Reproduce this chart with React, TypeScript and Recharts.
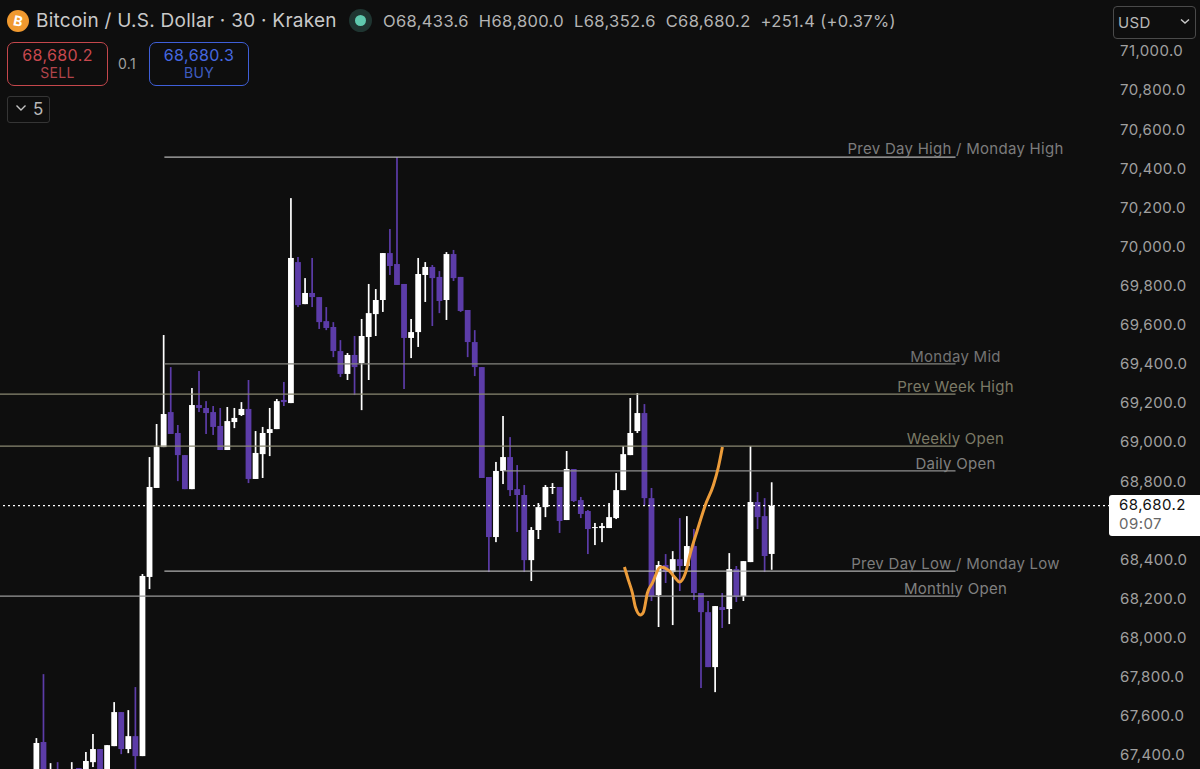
import React from 'react';
import { ComposedChart, Bar, Line, XAxis, YAxis, ReferenceLine, ReferenceDot } from 'recharts';

// OHLC per 30 minute candle. The first few sit below the frame.
const opens = [
  67230, 67472, 67290, 67320, 67280, 67290, 67339, 67310, 67369, 67436,
  67310, 67451, 67625, 67436, 67502, 67400, 68316, 68771, 68980, 69159,
  69052, 68939, 68765, 69195, 69180, 69159, 69088, 68965, 69108, 69144,
  69175, 68817, 68944, 69052, 69072, 69221, 69205, 69926, 69711, 69768,
  69747, 69624, 69594, 69471, 69354, 69451, 69410, 69543, 69660, 69732,
  69972, 69916, 69814, 69538, 69568, 69860, 69901, 69850, 69732, 69967,
  69850, 69681, 69517, 69389, 68827, 68520, 68858, 68929, 68765, 68735,
  68402, 68556, 68673, 68771, 68776, 68607, 68868, 68709, 68653, 68566,
  68566, 68566, 68617, 68760, 68939, 69062, 69154, 68719, 68223, 68377,
  68341, 68407, 68372, 68474, 68234, 68136, 67855, 68162, 68152, 68356,
  68218, 68392, 68699, 68627, 68433.6,
];
const highs = [
  67492, 67819, 67364, 67369, 67320, 67369, 67339, 67421, 67513, 67436,
  67456, 67676, 67625, 67635, 67753, 68331, 68929, 69098, 69553, 69389,
  69093, 68939, 69282, 69369, 69215, 69190, 69180, 69185, 69180, 69210,
  69323, 69062, 69083, 69180, 69226, 69313, 70253, 69952, 69844, 69947,
  69747, 69696, 69619, 69527, 69461, 69548, 69635, 69814, 69788, 69972,
  70095, 70463, 69814, 69635, 69947, 69926, 69911, 69880, 69977, 69988,
  69850, 69681, 69578, 69389, 68827, 68904, 69139, 69031, 68888, 68786,
  68571, 68694, 68786, 68796, 68776, 68960, 68868, 68725, 68658, 68592,
  68592, 68694, 68847, 68985, 69231, 69256, 69200, 68771, 68397, 68433,
  68448, 68617, 68627, 68561, 68234, 68193, 68167, 68234, 68438, 68372,
  68397, 68985, 68750, 68719, 68800,
];
const lows = [
  67180, 67250, 67280, 67270, 67270, 67280, 67290, 67300, 67344, 67300,
  67300, 67451, 67410, 67415, 67300, 67400, 68254, 68771, 68980, 69047,
  68806, 68765, 68765, 69159, 69047, 69042, 68965, 68965, 69077, 69139,
  68796, 68817, 68822, 68934, 69072, 69190, 69205, 69696, 69711, 69696,
  69584, 69578, 69440, 69338, 69323, 69246, 69169, 69323, 69548, 69671,
  69860, 69809, 69277, 69435, 69492, 69722, 69599, 69665, 69630, 69829,
  69671, 69440, 69343, 68822, 68341, 68494, 68791, 68730, 68546, 68341,
  68295, 68510, 68622, 68740, 68541, 68607, 68699, 68617, 68433, 68479,
  68494, 68566, 68612, 68760, 68939, 69052, 68684, 68193, 68060, 68285,
  68070, 68244, 68372, 68198, 67748, 67855, 67727, 68055, 68075, 68188,
  68193, 68392, 68561, 68341, 68352.6,
];
const closes = [
  67467, 67303, 67320, 67280, 67310, 67333, 67300, 67375, 67436, 67310,
  67456, 67625, 67436, 67502, 67400, 68321, 68776, 68980, 69149, 69047,
  68939, 68765, 69195, 69180, 69154, 69083, 68965, 69113, 69129, 69175,
  68817, 68950, 69052, 69072, 69215, 69210, 69947, 69706, 69768, 69747,
  69619, 69589, 69471, 69354, 69451, 69389, 69548, 69665, 69732, 69972,
  69906, 69809, 69538, 69568, 69865, 69901, 69844, 69727, 69967, 69844,
  69676, 69517, 69389, 68822, 68520, 68858, 68929, 68760, 68735, 68402,
  68556, 68673, 68776, 68776, 68602, 68868, 68704, 68638, 68561, 68571,
  68576, 68622, 68760, 68944, 69052, 69154, 68719, 68218, 68377, 68341,
  68407, 68372, 68474, 68234, 68136, 67855, 68167, 68147, 68356, 68213,
  68397, 68699, 68622, 68423, 68680.2,
];

// hand drawn orange stroke
const sketchIdx = [83.17, 83.73, 84.3, 84.72, 85.43, 85.86, 86.42, 87.13, 88.26, 89.39, 90.38, 90.95, 91.8, 92.5, 93.49, 94.62, 95.76, 96.46, 97.03];
const sketchPrice = [68367, 68300, 68234, 68162, 68121, 68136, 68234, 68285, 68367, 68351, 68310, 68290, 68336, 68438, 68556, 68684, 68786, 68878, 68980];

const levelNames = ['Prev Day High / Monday High', 'Monday Mid', 'Prev Week High', 'Weekly Open', 'Daily Open', 'Prev Day Low / Monday Low', 'Monthly Open'];
const levelPrices = [70463, 69405, 69251, 68985, 68858, 68346, 68218];
const levelStarts = [18.1, 18.1, -5.15, -5.15, 66, 18.1, -5.15];
const levelColors = ['#b4b4b4', '#85857f', '#8a8872', '#8a8872', '#8f8f8f', '#b0b0b0', '#9a9a9a'];
const levelTextColors = ['#7c7c7c', '#737373', '#7c7a66', '#7c7a66', '#808080', '#7c7c7c', '#808080'];
const levelOffsets = [3, 2, 2, 2, 2, 2, 2];
const levelEnd = 130;

// 68,600.0 sits under the last price tag in the reference, so it is left out
const priceTicks = [67400, 67600, 67800, 68000, 68200, 68400, 68800, 69000, 69200, 69400, 69600, 69800, 70000, 70200, 70400, 70600, 70800, 71000];
const lastPrice = 68680.2;

const candleData = opens.map((open, idx) => ({ idx, open, high: highs[idx], low: lows[idx], close: closes[idx] }));
const sketchData = sketchIdx.map((idx, i) => ({ idx, price: sketchPrice[i] }));

const WHITE = '#ffffff';
const PURPLE = '#5c3ca8';
const FONT = 'Inter, "Noto Sans", sans-serif';

const Candle = (props: any) => {
  const { x, y, width, height, payload } = props;
  const { open, close, high, low } = payload;
  const k = height / (high - low);
  const top = y + (high - Math.max(open, close)) * k;
  const bodyH = Math.max(Math.abs(open - close) * k, 1);
  const fill = close >= open ? WHITE : PURPLE;
  const cx = x + width / 2;
  return (
    <g>
      <rect x={cx - 0.85} y={y} width={1.7} height={height} fill={fill} />
      <rect x={cx - 2.9} y={top} width={5.8} height={bodyH} fill={fill} />
    </g>
  );
};

const Tag = ({ left, top, style, children }: any) => (
  <div style={{ position: 'absolute', left, top, fontFamily: FONT, whiteSpace: 'nowrap', ...style }}>{children}</div>
);

export default function App() {
  return (
    <div style={{ position: 'absolute', left: 0, top: 0, width: 1200, height: 769, background: '#0e0e0e', overflow: 'hidden' }}>
      <ComposedChart width={1200} height={769} data={candleData} margin={{ top: 0, right: 0, bottom: 0, left: 0 }}>
        <XAxis dataKey="idx" type="number" domain={[-5.15, 151.85]} allowDataOverflow hide />
        <YAxis
          orientation="right"
          width={90}
          domain={[67334, 71266]}
          allowDataOverflow
          ticks={priceTicks}
          interval={0}
          axisLine={false}
          tickLine={false}
          tickSize={0}
          tickMargin={10}
          tick={{ fill: '#a0a0a0', fontSize: 15, fontFamily: FONT, letterSpacing: 0.4, dy: -1 }}
          tickFormatter={(val: number) => val.toLocaleString('en-US', { minimumFractionDigits: 1 })}
        />
        {levelNames.map((name, i) => (
          <ReferenceLine
            key={name}
            segment={[{ x: levelStarts[i], y: levelPrices[i] }, { x: levelEnd, y: levelPrices[i] }]}
            stroke={levelColors[i]}
            strokeWidth={1.2}
          />
        ))}
        <ReferenceLine y={lastPrice} stroke="#ffffff" strokeWidth={1.2} strokeDasharray="2 3" />
        <Line
          data={sketchData}
          dataKey="price"
          type="monotone"
          stroke="#ec9c3a"
          strokeWidth={3}
          dot={false}
          activeDot={false}
          isAnimationActive={false}
        />
        <Bar
          dataKey={(d: any) => [d.low, d.high]}
          barSize={7}
          shape={<Candle />}
          isAnimationActive={false}
        />
        {levelNames.map((name, i) => (
          <ReferenceDot
            key={name}
            x={levelEnd}
            y={levelPrices[i]}
            r={0}
            stroke="none"
            label={{ value: name, position: 'top', offset: levelOffsets[i], fill: levelTextColors[i], fontSize: 15, fontFamily: FONT, letterSpacing: 0.27 }}
          />
        ))}
      </ComposedChart>

      {/* toolbar and header bits on top of the plot */}
      <svg style={{ position: 'absolute', left: 7, top: 10 }} width={22} height={22}>
        <circle cx={11} cy={11} r={11} fill="#f0992f" />
        <text x={11} y={16} textAnchor="middle" fontSize={14} fontWeight={700} fontFamily={FONT} fill="#ffffff" transform="rotate(12 11 11)">B</text>
      </svg>
      <Tag left={36} top={10} style={{ color: '#c9c9c9', fontSize: 19, lineHeight: '22px', letterSpacing: 0.26 }}>Bitcoin / U.S. Dollar · 30 · Kraken</Tag>
      <div style={{ position: 'absolute', left: 349, top: 9, width: 23, height: 23, borderRadius: 12, background: '#1f3531' }} />
      <div style={{ position: 'absolute', left: 355, top: 15, width: 11, height: 11, borderRadius: 6, background: '#5fc9ae' }} />
      <Tag left={383} top={10} style={{ color: '#b4b4b4', fontSize: 16.5, lineHeight: '22px', letterSpacing: 0.35, whiteSpace: 'pre' }}>O68,433.6  H68,800.0  L68,352.6  C68,680.2  +251.4 (+0.37%)</Tag>

      <div style={{ position: 'absolute', left: 7, top: 42, width: 99, height: 42, border: '1.3px solid #c4474c', borderRadius: 7 }} />
      <Tag left={7} top={45} style={{ width: 101, textAlign: 'center', color: '#c8484e', fontSize: 16, letterSpacing: 0.4, lineHeight: '20px' }}>68,680.2</Tag>
      <Tag left={7} top={64} style={{ width: 101, textAlign: 'center', color: '#b0444b', fontSize: 14, letterSpacing: 0.3, lineHeight: '18px' }}>SELL</Tag>
      <Tag left={118} top={55} style={{ color: '#a0a0a0', fontSize: 14, lineHeight: '18px', letterSpacing: 0.3 }}>0.1</Tag>
      <div style={{ position: 'absolute', left: 149, top: 42, width: 98, height: 42, border: '1.3px solid #3f5fd8', borderRadius: 7 }} />
      <Tag left={149} top={45} style={{ width: 100, textAlign: 'center', color: '#4568e0', fontSize: 16, letterSpacing: 0.4, lineHeight: '20px' }}>68,680.3</Tag>
      <Tag left={149} top={64} style={{ width: 100, textAlign: 'center', color: '#3f5cc0', fontSize: 14, letterSpacing: 0.3, lineHeight: '18px' }}>BUY</Tag>

      <div style={{ position: 'absolute', left: 7, top: 96, width: 41, height: 25, border: '1px solid #353535', borderRadius: 3 }} />
      <svg style={{ position: 'absolute', left: 15, top: 104 }} width={12} height={8}>
        <path d="M1.5 1.5 L6 6 L10.5 1.5" stroke="#c4c4c4" strokeWidth={1.4} fill="none" />
      </svg>
      <Tag left={33} top={99} style={{ color: '#b8b8b8', fontSize: 17, lineHeight: '20px' }}>5</Tag>

      <div style={{ position: 'absolute', left: 1113, top: 6, width: 81, height: 31, border: '1px solid #4a4a4a', borderRadius: 4 }} />
      <Tag left={1118} top={13} style={{ color: '#b8b8b8', fontSize: 15, lineHeight: '20px', letterSpacing: 0.3 }}>USD</Tag>
      <svg style={{ position: 'absolute', left: 1180, top: 18 }} width={10} height={7}>
        <path d="M1 1.5 L5 5 L9 1.5" stroke="#c8c8c8" strokeWidth={1.5} fill="none" />
      </svg>

      {/* last price tag */}
      <div style={{ position: 'absolute', left: 1109, top: 495, width: 91, height: 41, background: '#ffffff', borderRadius: '3px 0 0 3px' }} />
      <Tag left={1119} top={496} style={{ color: '#111111', fontSize: 15, lineHeight: '17px', letterSpacing: 0.45 }}>68,680.2</Tag>
      <Tag left={1119} top={515} style={{ color: '#666666', fontSize: 15, lineHeight: '17px', letterSpacing: 0.45 }}>09:07</Tag>
    </div>
  );
}
